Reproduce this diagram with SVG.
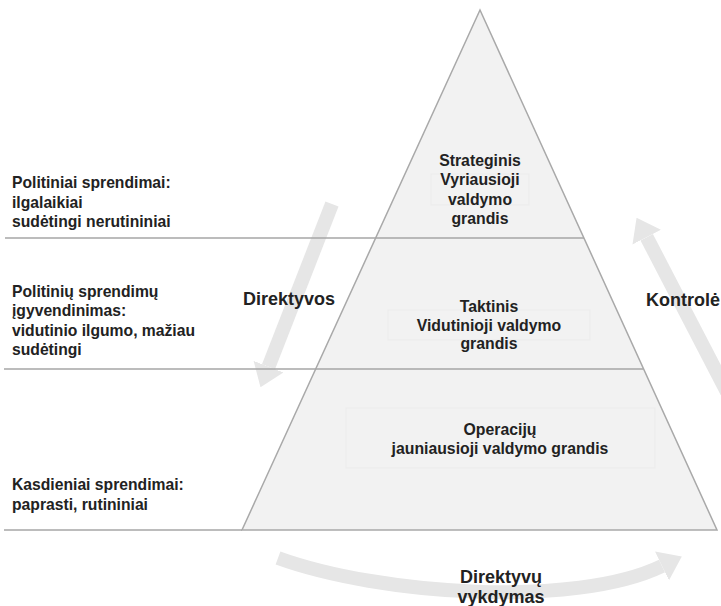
<svg xmlns="http://www.w3.org/2000/svg" width="721" height="606" viewBox="0 0 721 606">
  <style>
    .bg { fill: #ffffff; }
    .pyr { fill: #f2f2f2; stroke: #a9a9a9; stroke-width: 1.5; stroke-linejoin: miter; }
    .rule { stroke: #a6a6a6; stroke-width: 1.5; fill: none; }
    .frame { fill: none; stroke: #ebebeb; stroke-width: 1; }
    .flow { fill: none; stroke: #e6e6e6; stroke-width: 14; stroke-linecap: butt; }
    .lbl { font-family: "Liberation Sans", Arial, Helvetica, sans-serif; font-weight: bold; fill: #222222; }
    .side { font-size: 15.7px; }
    .lvl { font-size: 15.8px; text-anchor: middle; }
    .big { font-size: 18px; }
  </style>
  <defs>
    <marker id="head" markerUnits="userSpaceOnUse" markerWidth="22" markerHeight="32" refX="0" refY="16" orient="auto">
      <path d="M0,0 L22,16 L0,32 Z" fill="#e6e6e6"/>
    </marker>
  </defs>

  <rect class="bg" x="0" y="0" width="721" height="606"/>

  <!-- flow arrows behind everything -->
  <g id="connectors">
    <path id="arrow-direktyvos" class="flow" d="M332 204 L268.5 366.7" marker-end="url(#head)"/>
    <path id="arrow-kontrole" class="flow" d="M727 392 L646.7 237.2" marker-end="url(#head)"/>
    <path id="arrow-vykdymas" class="flow" d="M278 558 C 380 595, 575 608, 662 566" marker-end="url(#head)"/>
  </g>

  <!-- pyramid with level dividers -->
  <g id="pyramid">
    <polygon class="pyr" points="480,10 717,530 242,530"/>
    <line class="rule" x1="5" y1="238" x2="584" y2="238"/>
    <line class="rule" x1="4" y1="369" x2="643" y2="369"/>
    <line class="rule" x1="4" y1="530" x2="242" y2="530"/>
  </g>

  <g id="level-strateginis">
    <rect class="frame" x="431" y="174" width="98" height="31"/>
    <text class="lbl lvl" x="480" y="166">Strateginis</text>
    <text class="lbl lvl" x="480" y="185.3">Vyriausioji</text>
    <text class="lbl lvl" x="480" y="204.6">valdymo</text>
    <text class="lbl lvl" x="480" y="224">grandis</text>
  </g>

  <g id="level-taktinis">
    <rect class="frame" x="388" y="310" width="202" height="30"/>
    <text class="lbl lvl" x="489" y="312">Taktinis</text>
    <text class="lbl lvl" x="489" y="330.5">Vidutinioji valdymo</text>
    <text class="lbl lvl" x="489" y="349">grandis</text>
  </g>

  <g id="level-operaciju">
    <rect class="frame" x="346" y="408" width="309" height="60"/>
    <text class="lbl lvl" x="500" y="435">Operacijų</text>
    <text class="lbl lvl" x="500" y="453.5">jauniausioji valdymo grandis</text>
  </g>

  <g id="side-politiniai">
    <text class="lbl side" x="12" y="188">Politiniai sprendimai:</text>
    <text class="lbl side" x="12" y="207.5">ilgalaikiai</text>
    <text class="lbl side" x="12" y="227">sudėtingi nerutininiai</text>
  </g>

  <g id="side-igyvendinimas">
    <text class="lbl side" x="12" y="297">Politinių sprendimų</text>
    <text class="lbl side" x="12" y="316.3">įgyvendinimas:</text>
    <text class="lbl side" x="12" y="335.6">vidutinio ilgumo, mažiau</text>
    <text class="lbl side" x="12" y="355">sudėtingi</text>
  </g>

  <g id="side-kasdieniai">
    <text class="lbl side" x="12" y="490">Kasdieniai sprendimai:</text>
    <text class="lbl side" x="12" y="510">paprasti, rutininiai</text>
  </g>

  <g id="label-direktyvos">
    <text class="lbl big" x="243" y="305">Direktyvos</text>
  </g>

  <g id="label-kontrole">
    <text class="lbl big" x="646" y="306">Kontrolė</text>
  </g>

  <g id="label-vykdymas">
    <text class="lbl big" x="501" y="583" text-anchor="middle">Direktyvų</text>
    <text class="lbl big" x="501" y="603" text-anchor="middle">vykdymas</text>
  </g>
</svg>
